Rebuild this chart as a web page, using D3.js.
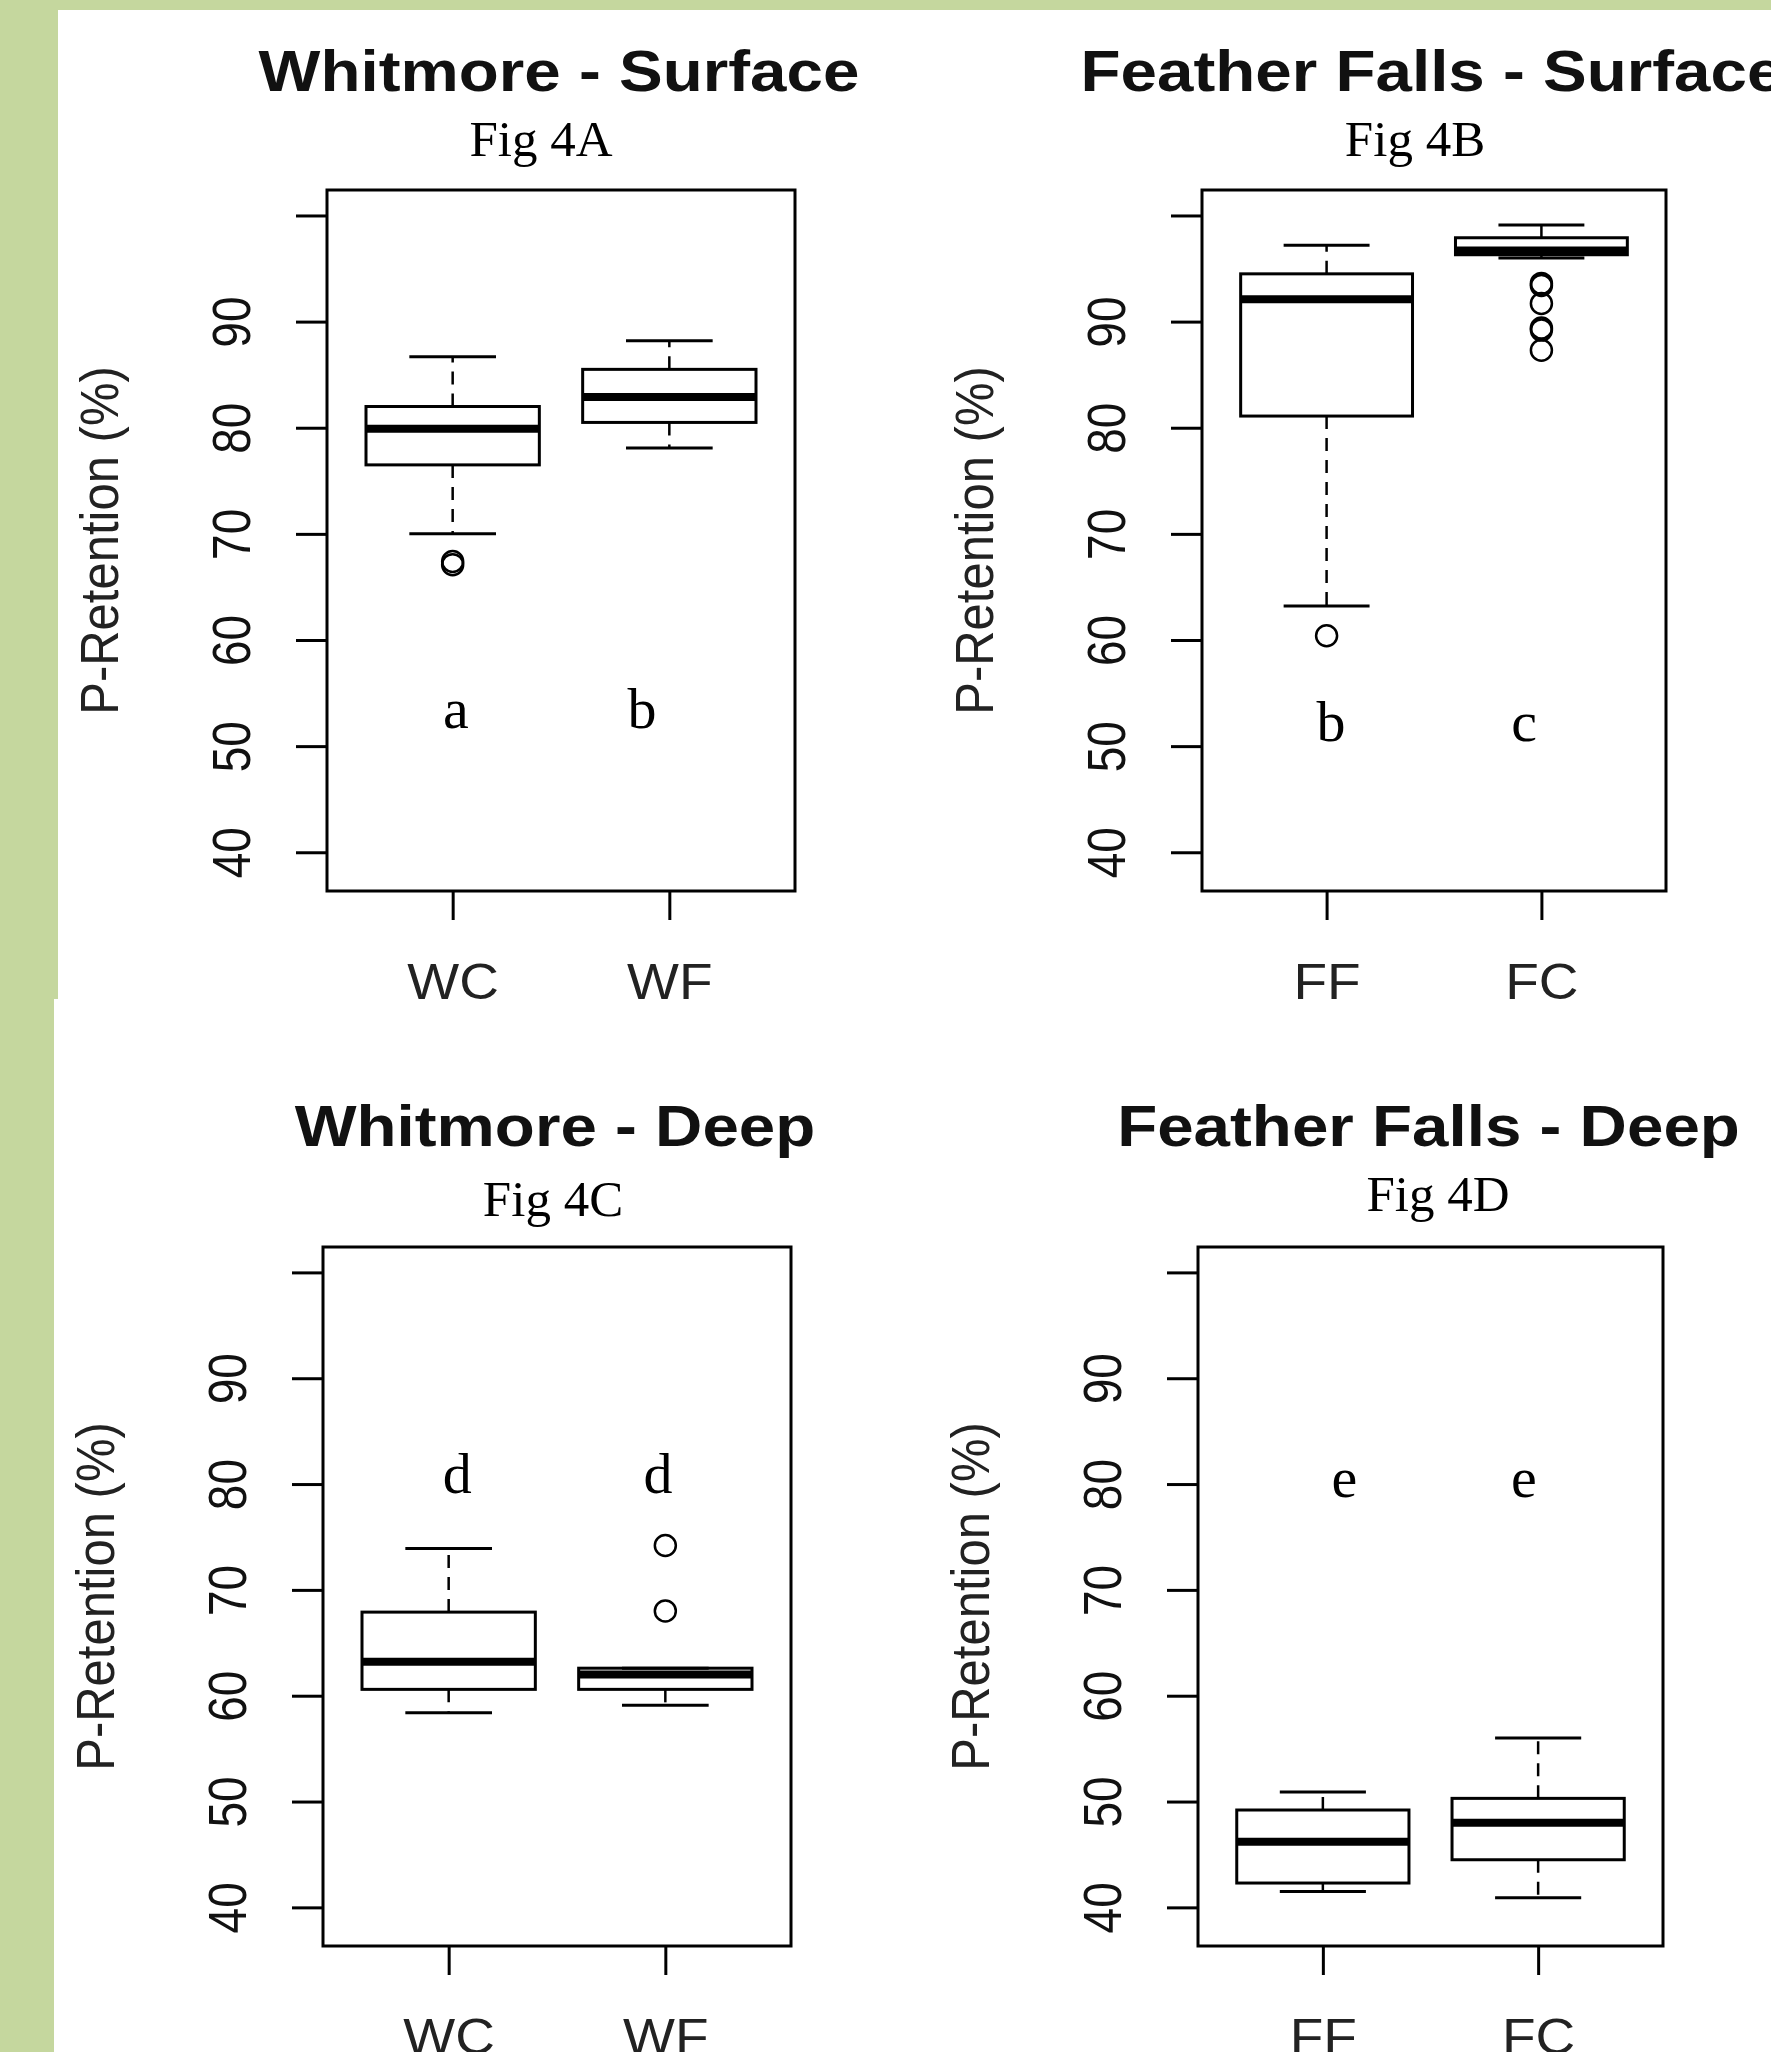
<!DOCTYPE html>
<html>
<head>
<meta charset="utf-8">
<script src="https://cdn.jsdelivr.net/npm/d3@7"></script>
<style>
  html, body { margin: 0; padding: 0; background: #c5d79e; }
  svg { display: block; }
</style>
</head>
<body>
<script>
// values (P-Retention, %)
const titles = ['Whitmore - Surface', 'Feather Falls - Surface', 'Whitmore - Deep', 'Feather Falls - Deep']
const figLabels = ['Fig 4A', 'Fig 4B', 'Fig 4C', 'Fig 4D']
const categories = [['WC', 'WF'], ['FF', 'FC'], ['WC', 'WF'], ['FF', 'FC']]
const whiskerLow = [[70.0, 78.1], [63.2, 96.0], [58.4, 59.1], [41.5, 40.9]]
const quartile1 = [[76.5, 80.5], [81.1, 96.3], [60.6, 60.6], [42.3, 44.5]]
const medians = [[79.9, 82.9], [92.1, 96.7], [63.2, 62.0], [46.2, 48.0]]
const quartile3 = [[82.0, 85.5], [94.5, 97.9], [67.9, 62.6], [49.2, 50.3]]
const whiskerHigh = [[86.7, 88.2], [97.2, 99.1], [73.9, 62.6], [50.9, 56.0]]
const outliers = [
  [[67.1, 67.4], []],
  [[60.4], [93.6, 93.4, 91.7, 89.4, 89.2, 87.3]],
  [[], [74.2, 68.0]],
  [[], []]
]
const letters = [['a', 'b'], ['b', 'c'], ['d', 'd'], ['e', 'e']]
const yTicks = [40, 50, 60, 70, 80, 90, 100]
const yTickLabels = ['40', '50', '60', '70', '80', '90', '']
const yLabel = 'P-Retention (%)'

// layout of each panel (pixels), kept apart from the data
const layout = [
  { x0: 327, x1: 795, y0: 190, y1: 891, titleY: 91, figX: 541, figY: 156, letterX: [1.015, 1.874], letterY: 51.7 },
  { x0: 1202, x1: 1666, y0: 190, y1: 891, titleY: 91, figX: 1415, figY: 156, letterX: [1.02, 1.92], letterY: 50.5 },
  { x0: 323, x1: 791, y0: 1247, y1: 1946, titleY: 1146, figX: 553, figY: 1216, letterX: [1.04, 1.966], letterY: 79.2 },
  { x0: 1198, x1: 1663, y0: 1247, y1: 1946, titleY: 1146, figX: 1438, figY: 1211, letterX: [1.10, 1.934], letterY: 78.8 }
]

const width = 1771
const height = 2052
const ink = '#000'
const sans = '"Liberation Sans", Arial, sans-serif'
const serif = '"Liberation Serif", "Times New Roman", serif'
const yDomain = [36.35, 102.4]

const svg = d3.select('body')
  .append('svg')
  .attr('width', width)
  .attr('height', height)

svg.append('rect').attr('width', width).attr('height', height).attr('fill', '#c5d79e')
svg.append('rect').attr('x', 58).attr('y', 10).attr('width', width - 58).attr('height', 989).attr('fill', '#fff')
svg.append('rect').attr('x', 54).attr('y', 999).attr('width', width - 54).attr('height', height - 999).attr('fill', '#fff')

const drawPanel = function (i) {
  const L = layout[i]
  const xScale = d3.scaleLinear().domain([0.42, 2.58]).range([L.x0, L.x1])
  const yScale = d3.scaleLinear().domain(yDomain).range([L.y1, L.y0])
  const g = svg.append('g')

  const groups = categories[i].map(function (c, j) {
    return {
      pos: j + 1,
      lo: whiskerLow[i][j],
      q1: quartile1[i][j],
      med: medians[i][j],
      q3: quartile3[i][j],
      hi: whiskerHigh[i][j],
      out: outliers[i][j]
    }
  })

  // y axis
  g.append('g')
    .attr('transform', `translate(${L.x0}, 0)`)
    .call(d3.axisLeft(yScale)
      .tickValues(yTicks)
      .tickFormat(function (d) { return yTickLabels[yTicks.indexOf(d)] })
      .tickSize(31))
    .call(function (a) { a.select('.domain').remove() })
    .call(function (a) { a.selectAll('line').attr('stroke', ink).attr('stroke-width', 3) })
    .call(function (a) {
      a.selectAll('text')
        .attr('x', null)
        .attr('dy', null)
        .attr('text-anchor', 'middle')
        .attr('transform', 'translate(-77, 0) scale(1.15, 1) rotate(-90)')
        .attr('font-size', 46)
        .attr('font-family', sans)
        .attr('fill', '#111')
    })

  // x axis
  g.append('g')
    .attr('transform', `translate(0, ${L.y1})`)
    .call(d3.axisBottom(xScale)
      .tickValues([1, 2])
      .tickFormat(function (d) { return categories[i][d - 1] })
      .tickSize(29))
    .call(function (a) { a.select('.domain').remove() })
    .call(function (a) { a.selectAll('line').attr('stroke', ink).attr('stroke-width', 3) })
    .call(function (a) {
      a.selectAll('text')
        .attr('y', null)
        .attr('dy', null)
        .attr('text-anchor', 'middle')
        .attr('transform', 'translate(0, 108) scale(1.1, 1)')
        .attr('font-size', 50)
        .attr('font-family', sans)
        .attr('fill', '#222')
    })

  const box = g.selectAll('g.box')
    .data(groups)
    .enter()
    .append('g')
    .attr('class', 'box')

  // dashed whiskers
  box.append('line')
    .attr('x1', function (d) { return xScale(d.pos) })
    .attr('x2', function (d) { return xScale(d.pos) })
    .attr('y1', function (d) { return yScale(d.q3) })
    .attr('y2', function (d) { return yScale(d.hi) })
    .attr('stroke', ink).attr('stroke-width', 2.5).attr('stroke-dasharray', '13,9')
  box.append('line')
    .attr('x1', function (d) { return xScale(d.pos) })
    .attr('x2', function (d) { return xScale(d.pos) })
    .attr('y1', function (d) { return yScale(d.q1) })
    .attr('y2', function (d) { return yScale(d.lo) })
    .attr('stroke', ink).attr('stroke-width', 2.5).attr('stroke-dasharray', '13,9')

  // staples
  ;['hi', 'lo'].forEach(function (k) {
    box.append('line')
      .attr('x1', function (d) { return xScale(d.pos - 0.2) })
      .attr('x2', function (d) { return xScale(d.pos + 0.2) })
      .attr('y1', function (d) { return yScale(d[k]) })
      .attr('y2', function (d) { return yScale(d[k]) })
      .attr('stroke', ink).attr('stroke-width', 3)
  })

  // box
  box.append('rect')
    .attr('x', function (d) { return xScale(d.pos - 0.4) })
    .attr('width', function (d) { return xScale(d.pos + 0.4) - xScale(d.pos - 0.4) })
    .attr('y', function (d) { return yScale(d.q3) })
    .attr('height', function (d) { return yScale(d.q1) - yScale(d.q3) })
    .attr('fill', 'none')
    .attr('stroke', ink).attr('stroke-width', 3)

  // median
  box.append('line')
    .attr('x1', function (d) { return xScale(d.pos - 0.4) })
    .attr('x2', function (d) { return xScale(d.pos + 0.4) })
    .attr('y1', function (d) { return yScale(d.med) })
    .attr('y2', function (d) { return yScale(d.med) })
    .attr('stroke', ink).attr('stroke-width', 8)

  // outliers
  box.selectAll('circle')
    .data(function (d) { return d.out.map(function (v) { return { pos: d.pos, v: v } }) })
    .enter()
    .append('circle')
    .attr('cx', function (d) { return xScale(d.pos) })
    .attr('cy', function (d) { return yScale(d.v) })
    .attr('r', 10.5)
    .attr('fill', 'none')
    .attr('stroke', ink).attr('stroke-width', 2.5)

  // plot frame
  g.append('rect')
    .attr('x', L.x0).attr('y', L.y0)
    .attr('width', L.x1 - L.x0).attr('height', L.y1 - L.y0)
    .attr('fill', 'none')
    .attr('stroke', ink).attr('stroke-width', 3)

  // y label
  g.append('text')
    .text(yLabel)
    .attr('transform', `translate(${L.x0 - 209}, ${(L.y0 + L.y1) / 2}) scale(1.1, 1) rotate(-90)`)
    .attr('text-anchor', 'middle')
    .attr('font-family', sans)
    .attr('font-size', 49)
    .attr('fill', '#222')

  // title
  g.append('text')
    .text(titles[i])
    .attr('transform', `translate(${(L.x0 + L.x1) / 2 - 2}, ${L.titleY}) scale(1.13, 1)`)
    .attr('text-anchor', 'middle')
    .attr('font-family', sans)
    .attr('font-weight', 'bold')
    .attr('font-size', 58)
    .attr('fill', '#111')

  // figure label
  g.append('text')
    .text(figLabels[i])
    .attr('x', L.figX)
    .attr('y', L.figY)
    .attr('text-anchor', 'middle')
    .attr('font-family', serif)
    .attr('font-size', 51)
    .attr('fill', ink)

  // significance letters
  g.selectAll('text.letter')
    .data(letters[i])
    .enter()
    .append('text')
    .attr('class', 'letter')
    .text(function (d) { return d })
    .attr('x', function (d, j) { return xScale(L.letterX[j]) })
    .attr('y', yScale(L.letterY))
    .attr('text-anchor', 'middle')
    .attr('font-family', serif)
    .attr('font-size', 58)
    .attr('fill', ink)
}

for (let i = 0; i < 4; i++) drawPanel(i)
</script>
</body>
</html>
